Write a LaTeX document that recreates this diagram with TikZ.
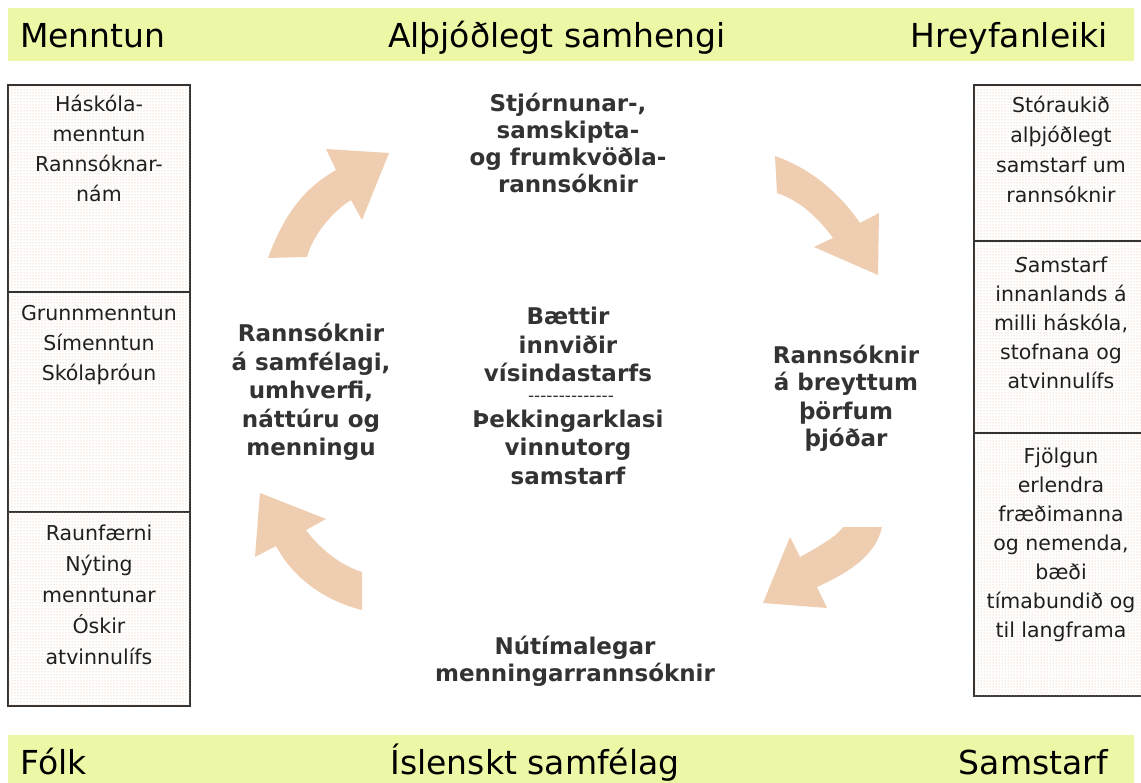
\documentclass[tikz,border=0pt]{standalone}
\usepackage{fontspec}
\setmainfont{DejaVu Sans}
\usetikzlibrary{patterns}
\definecolor{barfill}{RGB}{237,247,165}
\definecolor{arrowfill}{RGB}{238,205,177}
\definecolor{dotcol}{RGB}{232,178,140}
\definecolor{txtgray}{RGB}{51,51,51}
\definecolor{boxline}{RGB}{50,50,50}
\begin{document}
\begin{tikzpicture}[x=1pt,y=-1pt,
  bar/.style={fill=barfill,draw=none},
  bartext/.style={font=\fontsize{33}{40}\selectfont,anchor=base,inner sep=0pt,text=black},
  panel/.style={draw=boxline,line width=1.3pt,fill=white,postaction={pattern=dots,pattern color=dotcol}},
  paneltext/.style={font=\fontsize{20.5}{30}\selectfont,align=center,anchor=base,inner sep=0pt,text=black!88},
  theme/.style={font=\bfseries\fontsize{23}{28}\selectfont,align=center,anchor=base,inner sep=0pt,text=txtgray},
  cyc/.style={fill=arrowfill,draw=none}]
\useasboundingbox (0,0) rectangle (1141,783);
\clip (0,0) rectangle (1141,783);

% bars
\path[bar] (8,8) rectangle (1134,61);
\path[bar] (8,735) rectangle (1134,790);
\node[bartext,anchor=base west] (tl) at (20,48) {Menntun};
\node[bartext] (tc) at (557,48) {Alþjóðlegt samhengi};
\node[bartext,anchor=base east] (tr) at (1108,48) {Hreyfanleiki};
\node[bartext,anchor=base west] (bl) at (20,774) {Fólk};
\node[bartext] (bc) at (535,774) {Íslenskt samfélag};
\node[bartext,anchor=base east] (br) at (1108,774) {Samstarf};

% left panels (node base = baseline of last line)
\path[panel] (8,85) rectangle (190,292);
\path[panel] (8,292) rectangle (190,512);
\path[panel] (8,512) rectangle (190,706);
\node[paneltext] (l1) at (99,202) {Háskóla-\\menntun\\Rannsóknar-\\nám};
\node[paneltext] (l2) at (99,381) {Grunnmenntun\\Símenntun\\Skólaþróun};
\node[paneltext,font=\fontsize{20.5}{31}\selectfont] (l3) at (99,664) {Raunfærni\\Nýting\\menntunar\\Óskir\\atvinnulífs};

% right panels
\path[panel] (974,85) rectangle (1152,241);
\path[panel] (974,241) rectangle (1152,433);
\path[panel] (974,433) rectangle (1152,696);
\node[paneltext] (r1) at (1061,203) {Stóraukið\\alþjóðlegt\\samstarf um\\rannsóknir};
\node[paneltext,font=\fontsize{20.5}{29}\selectfont] (r2) at (1061,389) {\textit{S}amstarf\\innanlands á\\milli háskóla,\\stofnana og\\atvinnulífs};
\node[paneltext,font=\fontsize{20.5}{29}\selectfont] (r3) at (1061,637) {Fjölgun\\erlendra\\fræðimanna\\og nemenda,\\bæði\\tímabundið og\\til langframa};

% cycle arrows
\path[cyc] (268,258) .. controls (285,212) and (305,188) .. (336,170)
  -- (326,149) -- (389,153) -- (362,220) -- (351,200)
  .. controls (332,212) and (313,235) .. (307,257) -- cycle;
\path[cyc] (775,156) .. controls (815,170) and (843,198) .. (860,223)
  -- (879,213) -- (878,275) -- (814,247) -- (833,238)
  .. controls (817,216) and (798,200) .. (777,193) -- cycle;
\path[cyc] (882,527) .. controls (876,555) and (850,572) .. (817,587)
  -- (827,608) -- (763,603) -- (790,537) -- (800,557)
  .. controls (822,545) and (838,535) .. (843,527) -- cycle;
\path[cyc] (362,610) .. controls (322,600) and (292,576) .. (276,546)
  -- (255,557) -- (260,493) -- (326,519) -- (306,530)
  .. controls (320,549) and (340,565) .. (362,572) -- cycle;

% theme labels
\node[theme,font=\bfseries\fontsize{23}{27}\selectfont] (top) at (568,193) {Stjórnunar-,\\samskipta-\\og frumkvöðla-\\rannsóknir};
\node[theme,font=\bfseries\fontsize{23}{28.5}\selectfont] (left) at (311,456) {Rannsóknir\\á samfélagi,\\umhverfi,\\náttúru og\\menningu};
\node[theme] (right) at (846,447) {Rannsóknir\\á breyttum\\þörfum\\þjóðar};
\node[theme,font=\bfseries\fontsize{23}{27}\selectfont] (bottom) at (575,681) {Nútímalegar\\menningarrannsóknir};
\node[theme,font=\bfseries\fontsize{23}{28.5}\selectfont] (c1) at (568,382) {Bættir\\innviðir\\vísindastarfs};
\node[theme,font=\fontsize{17}{20}\selectfont] (cdash) at (571,402) {‑‑‑‑‑‑‑‑‑‑‑‑‑‑};
\node[theme,font=\bfseries\fontsize{23}{28.5}\selectfont] (c2) at (568,484) {Þekkingarklasi\\vinnutorg\\samstarf};
\end{tikzpicture}
\end{document}
